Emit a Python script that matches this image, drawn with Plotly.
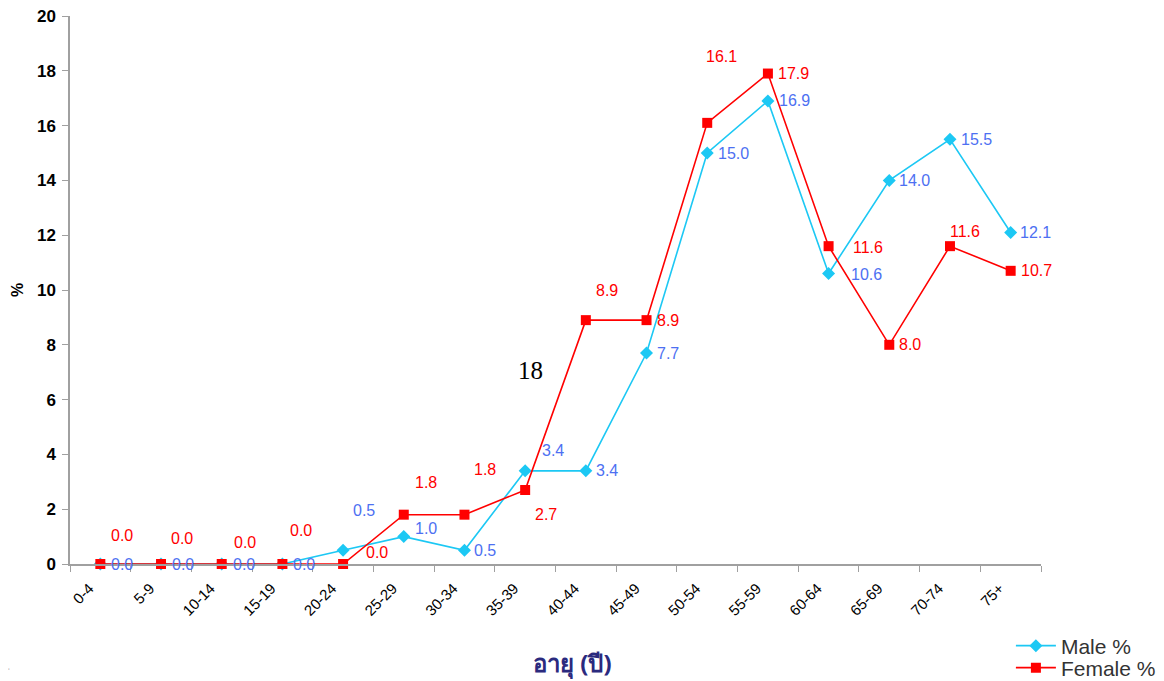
import plotly.graph_objects as go

categories = ["0-4", "5-9", "10-14", "15-19", "20-24", "25-29", "30-34", "35-39",
              "40-44", "45-49", "50-54", "55-59", "60-64", "65-69", "70-74", "75+"]
male = [0.0, 0.0, 0.0, 0.0, 0.5, 1.0, 0.5, 3.4, 3.4, 7.7, 15.0, 16.9, 10.6, 14.0, 15.5, 12.1]
female = [0.0, 0.0, 0.0, 0.0, 0.0, 1.8, 1.8, 2.7, 8.9, 8.9, 16.1, 17.9, 11.6, 8.0, 11.6, 10.7]
y_ticks = [0, 2, 4, 6, 8, 10, 12, 14, 16, 18, 20]

# label offsets in pixels (style only)
male_dx = [22, 22, 22, 22, 21, 22, 21, 28, 21, 21, 26, 27, 38, 25, 27, 25]
male_dy = [0, 0, 0, 0, 40, 8, 0, 20, 0, 0, 0, 0, -1, 0, 0, 0]
female_dx = [22, 21, 23, 19, 34, 22, 21, 21, 21, 21, 14, 26, 39, 21, 15, 26]
female_dy = [29, 26, 22, 34, 12, 32, 45, -24, 30, 0, 66, 0, -1, 0, 15, 0]

MALE_LINE = "#1cc8f4"
MALE_TEXT = "#4d70f2"
FEMALE = "#ff0000"
LABEL_FONT = "Arial, Liberation Sans, sans-serif"

# the page body has an 8px margin; the figure is sized/offset to compensate
fig = go.Figure()
fig.add_trace(go.Scatter(
    x=categories, y=male, name="Male %", mode="lines+markers", legend="legend",
    line=dict(color=MALE_LINE, width=1.6), cliponaxis=False,
    marker=dict(symbol="diamond", size=10, color=MALE_LINE),
))
fig.add_trace(go.Scatter(
    x=categories, y=female, name="Female %", mode="lines+markers", legend="legend2",
    line=dict(color=FEMALE, width=1.6), cliponaxis=False,
    marker=dict(symbol="square", size=10, color=FEMALE),
))

annotations = []
for c, v, dx, dy in zip(categories, male, male_dx, male_dy):
    annotations.append(dict(x=c, y=v, text=f"{v:.1f}", showarrow=False,
                            xshift=dx, yshift=dy,
                            font=dict(family=LABEL_FONT, size=16, color=MALE_TEXT)))
for c, v, dx, dy in zip(categories, female, female_dx, female_dy):
    annotations.append(dict(x=c, y=v, text=f"{v:.1f}", showarrow=False,
                            xshift=dx, yshift=dy,
                            font=dict(family=LABEL_FONT, size=16, color=FEMALE)))

annotations.append(dict(x="35-39", y=7.05, text="18", showarrow=False, xshift=5,
                        font=dict(family="Liberation Serif, Times New Roman, serif", size=25, color="black")))
annotations.append(dict(xref="paper", yref="paper", x=0.518, y=-0.181, text="<b>อายุ (ปี)</b>",
                        showarrow=False, xanchor="center", yanchor="middle",
                        font=dict(family="Noto Sans, DejaVu Sans, sans-serif", size=24, color="#2b2a7e")))
annotations.append(dict(xref="paper", yref="paper", x=-0.0545, y=0.5, text="<b>%</b>",
                        showarrow=False, textangle=-90, xanchor="center", yanchor="middle",
                        font=dict(family=LABEL_FONT, size=16, color="black")))
annotations.append(dict(xref="paper", yref="paper", x=-0.063, y=-0.196, text="ʻ",
                        showarrow=False, xanchor="center", yanchor="middle",
                        font=dict(family=LABEL_FONT, size=8, color="#888888")))

legend_style = dict(xanchor="left", yanchor="middle",
                    font=dict(size=21, color="#333333"), bgcolor="rgba(0,0,0,0)",
                    itemwidth=40)

fig.update_layout(
    width=1156, height=673,
    margin=dict(l=62, r=123, t=8, b=117, autoexpand=False),
    paper_bgcolor="white", plot_bgcolor="white",
    font=dict(family=LABEL_FONT, color="black"),
    annotations=annotations,
    showlegend=True,
    legend=dict(x=0.969, y=-0.1496, **legend_style),
    legend2=dict(x=0.969, y=-0.1898, **legend_style),
    xaxis=dict(
        type="category", categoryorder="array", categoryarray=categories,
        range=[-0.5, len(categories) - 0.5], automargin=False,
        showline=True, linecolor="#a0a0a0", linewidth=1.5,
        ticks="outside", tickson="boundaries", ticklen=6, tickcolor="#a0a0a0",
        tickangle=-45, tickfont=dict(size=15, color="black"),
        ticklabelstandoff=8, ticklabelshift=-11, ticklabeloverflow="allow",
        showgrid=False, zeroline=False,
    ),
    yaxis=dict(
        range=[0, 20], tickvals=y_ticks, ticktext=[f"<b>{t}</b>" for t in y_ticks],
        automargin=False,
        showline=True, linecolor="#a0a0a0", linewidth=1.5,
        ticks="outside", ticklen=6, tickcolor="#a0a0a0",
        tickfont=dict(size=17, color="black"), ticklabelstandoff=3,
        ticklabeloverflow="allow",
        showgrid=False, zeroline=False,
    ),
)

fig.write_html("out.html")
